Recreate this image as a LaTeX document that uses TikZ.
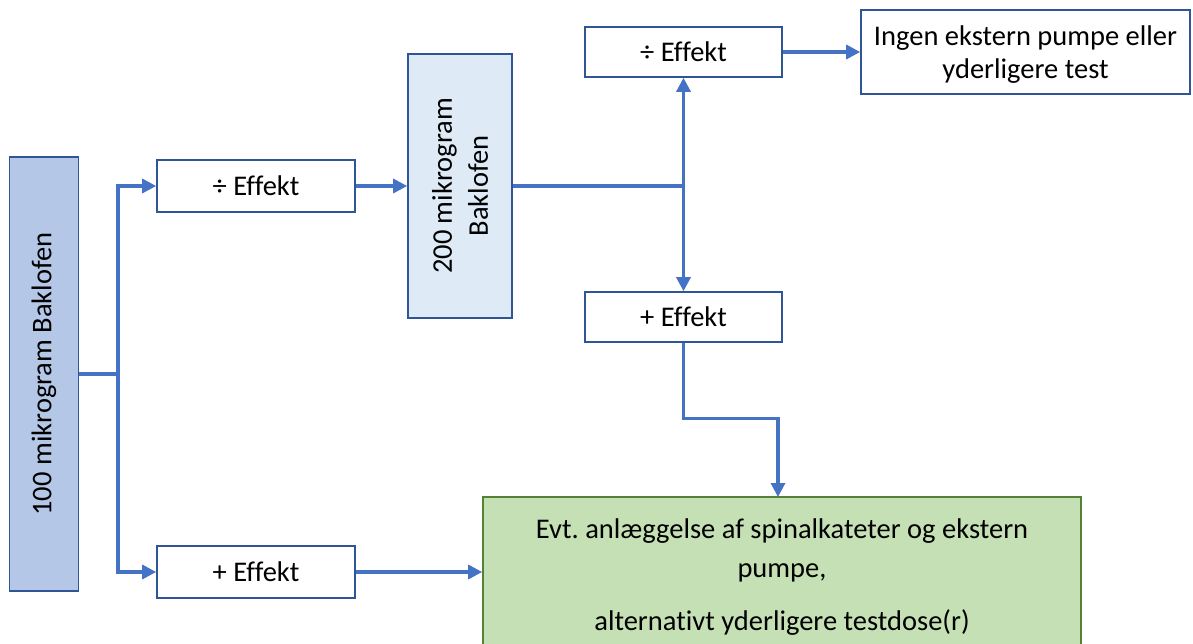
\documentclass[tikz,border=0pt]{standalone}
\usepackage{fontspec}
\setmainfont[Ligatures={NoCommon}]{Carlito}
\frenchspacing
\usetikzlibrary{arrows.meta}
\definecolor{lineblue}{HTML}{4472C4}
\definecolor{boxedge}{HTML}{2F5597}
\definecolor{fillA}{HTML}{B4C7E7}
\definecolor{fillB}{HTML}{DEEBF7}
\definecolor{fillG}{HTML}{C5E0B4}
\definecolor{edgeG}{HTML}{548235}
\tikzset{
  box/.style={draw=boxedge, line width=1.6pt, fill=white, inner sep=0pt, align=center,
    font=\fontsize{28.5}{34}\selectfont},
  txt/.style={inner sep=0pt, align=center},
  arr/.style={draw=lineblue, line width=3.2pt, -{Triangle[length=14pt,width=14pt]}},
  ln/.style={draw=lineblue, line width=3.2pt},
}
\begin{document}
\begin{tikzpicture}[x=1pt,y=-1pt]
\useasboundingbox (0,0) rectangle (1193,644);
\node[box, fill=fillA, rotate=90, minimum width=434pt, minimum height=69pt] (b100) at (44,374) {100 mikrogram Baklofen};
\node[box, minimum width=198pt, minimum height=52pt] (neg1) at (256,186) {÷ Effekt};
\node[box, minimum width=198pt, minimum height=52pt] (pos1) at (256,572) {+ Effekt};
\node[box, fill=fillB, rotate=90, minimum width=264pt, minimum height=104pt, font=\fontsize{28.5}{36}\selectfont] (b200) at (460,186) {200 mikrogram\\Baklofen};
\node[box, minimum width=197pt, minimum height=50pt] (neg2) at (683.5,52) {÷ Effekt};
\node[box, minimum width=197pt, minimum height=50pt] (pos2) at (683.5,317) {+ Effekt};
\node[box, minimum width=329pt, minimum height=84pt] (ingen) at (1025.5,52) {};
\node[txt, font=\fontsize{28.5}{33}\selectfont] (ingentxt) at ([yshift=-3pt]ingen.center) {Ingen ekstern pumpe eller\\yderligere test};
\node[box, draw=edgeG, fill=fillG, minimum width=598pt, minimum height=160pt, font=\fontsize{28.5}{39}\selectfont] (green) at (782,577) {Evt. anlæggelse af spinalkateter og ekstern\\pumpe,\\[14pt]alternativt yderligere testdose(r)};
% connectors
\coordinate (gt) at (778,497);
\draw[ln] (b100.south) -- (118,374) coordinate (j1);
\draw[arr] (j1) |- (neg1.west);
\draw[arr] (j1) |- (pos1.west);
\draw[arr] (neg1.east) -- (b200.north);
\draw[ln] (b200.south) -- (neg2.south |- b200.south) coordinate (j2);
\draw[arr] (j2) -- (neg2.south);
\draw[arr] (j2) -- (pos2.north);
\draw[arr] (neg2.east) -- (ingen.west);
\draw[arr] (pos2.south) -- ++(0,76) -| (gt);
\draw[arr] (pos1.east) -- (green.west |- pos1.east);
\end{tikzpicture}
\end{document}
